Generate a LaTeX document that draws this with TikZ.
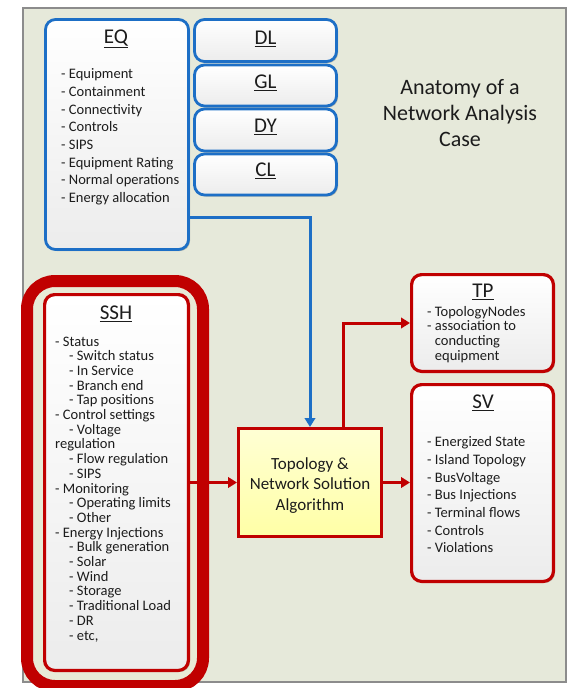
\documentclass[tikz,border=0pt]{standalone}
\usepackage{fontspec}
\setmainfont{Carlito}
\usetikzlibrary{arrows.meta,shadows}

\definecolor{frameBg}{HTML}{E6E9DA}
\definecolor{frameLine}{HTML}{8C8C8C}
\definecolor{ringBg}{HTML}{E8EAD6}
\definecolor{lineBlue}{HTML}{1D6FC6}
\definecolor{lineRed}{HTML}{C00000}
\definecolor{boxBottom}{HTML}{ECECEC}
\definecolor{algTop}{HTML}{FFFFD4}
\definecolor{algBottom}{HTML}{FFFFA6}
\definecolor{ink}{HTML}{1C1C1C}

\begin{document}
\begin{tikzpicture}[x=1pt,y=-1pt,
  softshadow/.style={drop shadow={opacity=0.22,shadow xshift=1.5pt,shadow yshift=-1.5pt,fill=black}},
  panel/.style={rectangle,rounded corners=10pt,top color=white,bottom color=boxBottom,
    inner sep=0pt,softshadow},
  bluepanel/.style={panel,draw=lineBlue,line width=2.8pt},
  redpanel/.style={panel,draw=lineRed,line width=3.2pt},
  algpanel/.style={rectangle,top color=algTop,bottom color=algBottom,draw=lineRed,
    line width=3.2pt,inner sep=0pt,softshadow},
  ringpanel/.style={rectangle,rounded corners=28pt,draw=lineRed,line width=12pt,
    fill=ringBg,inner sep=0pt},
  heading/.style={text=ink,inner sep=0pt,font=\fontsize{21}{24}\selectfont},
  itemsloose/.style={text=ink,inner sep=0pt,anchor=north west,align=left,
    font=\fontsize{14.5}{17.7}\selectfont},
  itemstight/.style={text=ink,inner sep=0pt,anchor=north west,align=left,
    font=\fontsize{14.5}{14.7}\selectfont},
  bluearrow/.style={draw=lineBlue,line width=3pt,-{Triangle[length=9pt,width=10.5pt]}},
  redarrow/.style={draw=lineRed,line width=3pt,-{Triangle[length=9pt,width=10.5pt]}},
]
\useasboundingbox (0,0) rectangle (568,688);

% background panel
\draw[fill=frameBg,draw=frameLine,line width=1.2pt] (23,8) rectangle (566,682);

% title
\node[text=ink,align=center,font=\fontsize{22}{26}\selectfont] (anatomy) at (460,113)
  {Anatomy of a\\Network Analysis\\Case};

% equipment profile and its companions
\node[bluepanel,minimum width=143pt,minimum height=230pt] (eq) at (117,134.5) {};
\node[bluepanel,minimum width=142pt,minimum height=42pt] (dl) at (265.5,40.5) {};
\node[bluepanel,minimum width=142pt,minimum height=41pt] (gl) at (265.5,85.5) {};
\node[bluepanel,minimum width=142pt,minimum height=42pt] (dy) at (265.5,130) {};
\node[bluepanel,minimum width=142pt,minimum height=41pt] (cl) at (265.5,174.5) {};

\node[heading] (eqt) at (116,39) {\underline{EQ}};
\node[heading] (dlt) at (265.5,39) {\underline{DL}};
\node[heading] (glt) at (265.5,83) {\underline{GL}};
\node[heading] (dyt) at (265.5,127) {\underline{DY}};
\node[heading] (clt) at (265.5,171) {\underline{CL}};

\node[itemsloose] (eqlist) at (61,68.5)
  {- Equipment\\- Containment\\- Connectivity\\- Controls\\- SIPS\\- Equipment Rating\\- Normal operations\\- Energy allocation};

% steady state hypothesis, emphasised by a heavy ring
\node[ringpanel,minimum width=176pt,minimum height=405pt] (ring) at (115,483.5) {};
\node[redpanel,minimum width=143.8pt,minimum height=375.8pt] (ssh) at (116.5,482.5) {};
\node[heading] (ssht) at (116,314) {\underline{SSH}};
\node[itemstight] (sshlist) at (55,336.4)
  {- Status\\
   \hspace*{14pt}- Switch status\\
   \hspace*{14pt}- In Service\\
   \hspace*{14pt}- Branch end\\
   \hspace*{14pt}- Tap positions\\
   - Control settings\\
   \hspace*{14pt}- Voltage\\
   regulation\\
   \hspace*{14pt}- Flow regulation\\
   \hspace*{14pt}- SIPS\\
   - Monitoring\\
   \hspace*{14pt}- Operating limits\\
   \hspace*{14pt}- Other\\
   - Energy Injections\\
   \hspace*{14pt}- Bulk generation\\
   \hspace*{14pt}- Solar\\
   \hspace*{14pt}- Wind\\
   \hspace*{14pt}- Storage\\
   \hspace*{14pt}- Traditional Load\\
   \hspace*{14pt}- DR\\
   \hspace*{14pt}- etc,};

% solver
\node[algpanel,minimum width=142.8pt,minimum height=107.8pt] (alg) at (310,482.5) {};
\node[text=ink,align=center,inner sep=0pt,font=\fontsize{17}{20.5}\selectfont] (algtext)
  at (310,485.5) {Topology \&\\Network Solution\\Algorithm};

% outputs
\node[redpanel,minimum width=141.8pt,minimum height=96.8pt] (tp) at (482.5,323) {};
\node[heading] (tpt) at (483,292) {\underline{TP}};
\node[itemstight] (tplist) at (427,306)
  {- TopologyNodes\\- association to\\\hphantom{- }conducting\\\hphantom{- }equipment};

\node[redpanel,minimum width=141.8pt,minimum height=196.8pt] (sv) at (482.5,483) {};
\node[heading] (svt) at (483,403) {\underline{SV}};
\node[itemsloose] (svlist) at (427,436.4)
  {- Energized State\\- Island Topology\\- BusVoltage\\- Bus Injections\\- Terminal flows\\- Controls\\- Violations};

% connectors
\coordinate (eqbend) at (310,217);
\draw[bluearrow] (eq.east |- eqbend) -- (eqbend) -- (alg.north);
\draw[redarrow] (ssh.east) -- (alg.west);
\draw[redarrow] (alg.east) -- (alg.east -| sv.west);
\coordinate (tpbend) at (343,323);
\draw[redarrow] (alg.north -| tpbend) -- (tpbend) -- (tp.west);
\end{tikzpicture}
\end{document}
